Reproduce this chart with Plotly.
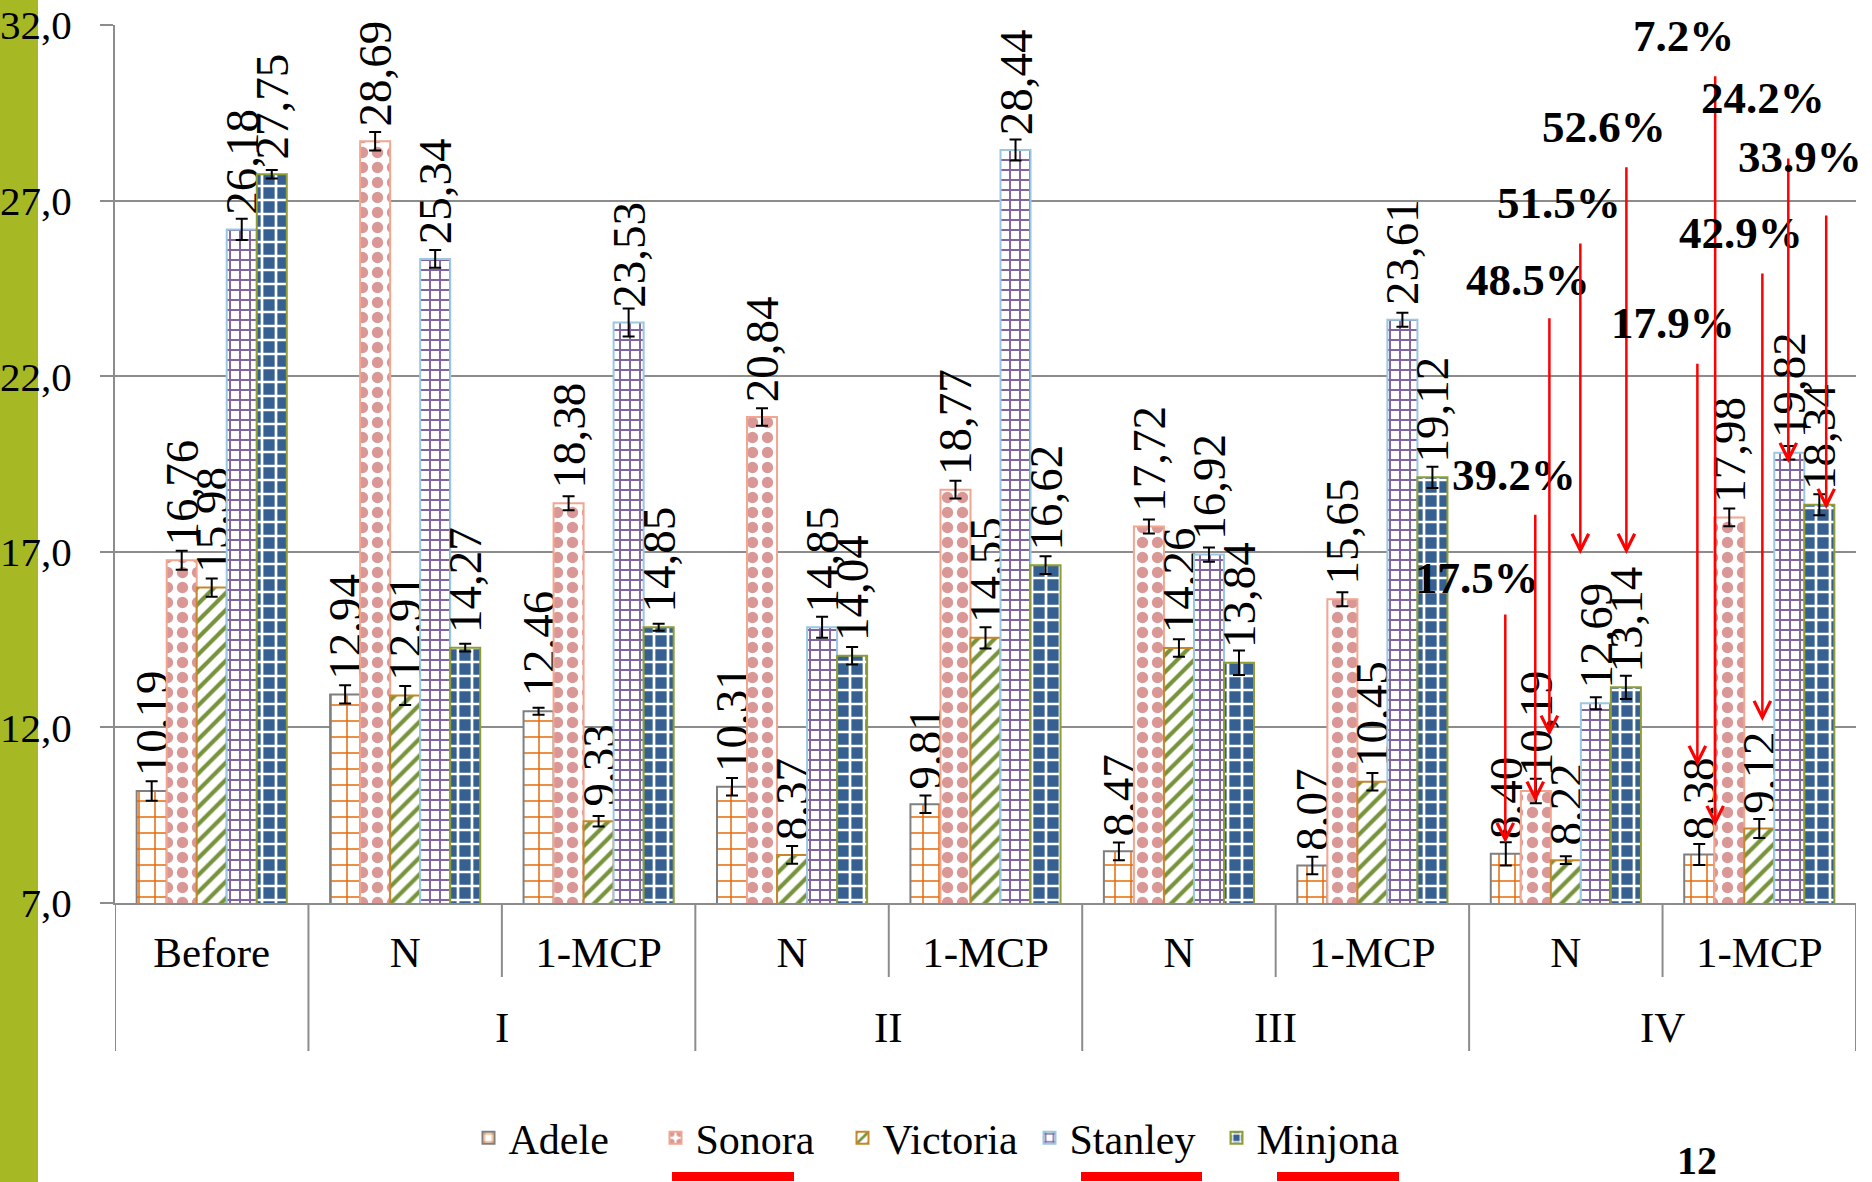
import plotly.graph_objects as go

# ---------------- data ----------------
categories = ["Before", "N", "1-MCP", "N", "1-MCP", "N", "1-MCP", "N", "1-MCP"]
groups = ["I", "II", "III", "IV"]
group_centers = [1.5, 3.5, 5.5, 7.5]
series_names = ["Adele", "Sonora", "Victoria", "Stanley", "Minjona"]

adele = [10.19, 12.94, 12.46, 10.31, 9.81, 8.47, 8.07, 8.40, 8.38]
sonora = [16.76, 28.69, 18.38, 20.84, 18.77, 17.72, 15.65, 10.19, 17.98]
victoria = [15.98, 12.91, 9.33, 8.37, 14.55, 14.26, 10.45, 8.22, 9.12]
stanley = [26.18, 25.34, 23.53, 14.85, 28.44, 16.92, 23.61, 12.69, 19.82]
minjona = [27.75, 14.27, 14.85, 14.04, 16.62, 13.84, 19.12, 13.14, 18.34]

adele_err = [0.28, 0.26, 0.10, 0.25, 0.25, 0.25, 0.25, 0.33, 0.30]
sonora_err = [0.27, 0.26, 0.20, 0.25, 0.25, 0.20, 0.20, 0.35, 0.25]
victoria_err = [0.26, 0.27, 0.15, 0.25, 0.30, 0.25, 0.25, 0.11, 0.27]
stanley_err = [0.30, 0.25, 0.40, 0.30, 0.30, 0.20, 0.20, 0.17, 0.19]
minjona_err = [0.12, 0.11, 0.10, 0.25, 0.25, 0.35, 0.30, 0.33, 0.30]

y_ticks = [7, 12, 17, 22, 27, 32]

pct_labels = ["17.5%", "39.2%", "48.5%", "51.5%", "52.6%",
              "17.9%", "7.2%", "42.9%", "24.2%", "33.9%"]
arrow_x = [6.687, 6.842, 6.915, 7.075, 7.313, 7.680, 7.772, 8.016, 8.150, 8.346]
arrow_tail = [15.26, 18.10, 23.69, 25.82, 27.99, 22.40, 30.58, 24.97, 28.24, 26.62]
arrow_tip = [8.71, 9.88, 11.76, 16.94, 16.94, 10.90, 9.19, 12.18, 19.53, 18.22]
label_x = [6.54, 6.734, 6.806, 6.966, 7.199, 7.556, 7.608, 7.908, 8.021, 8.212]
label_y = [16.25, 19.19, 24.74, 26.93, 29.10, 23.51, 31.69, 26.08, 29.92, 28.24]

# ---------------- styles ----------------
FONT = "Liberation Serif, Times New Roman, serif"
GRID = "#8C8C8C"
W, H = 1872, 1182
ML, MR, MT, MB = 115, 16, 25, 279
PW, PH = W - ML - MR, H - MT - MB


def px_x(px):
    return (px - ML) / PW


def px_y(py):
    return (H - MB - py) / PH


values = [adele, sonora, victoria, stanley, minjona]
errors = [adele_err, sonora_err, victoria_err, stanley_err, minjona_err]
styles = [
    dict(bg="white", fg="#E46C0A", shape="+", size=16, solidity=0.18, line="#7F7F7F"),
    dict(bg="white", fg="#D99795", shape=".", size=15, solidity=0.45, line="#F2A58F"),
    dict(bg="white", fg="#77933C", shape="/", size=12, solidity=0.35, line="#C8862A"),
    dict(bg="white", fg="#8064A2", shape="+", size=10, solidity=0.35, line="#9CC7E0"),
    dict(bg="#376092", fg="white", shape="+", size=14, solidity=0.35, line="#8E9E33"),
]

fig = go.Figure()
xs = list(range(len(categories)))
for name, vals, errs, st in zip(series_names, values, errors, styles):
    fig.add_trace(go.Bar(
        name=name, x=xs, y=vals,
        marker=dict(color=st["bg"],
                    line=dict(color=st["line"], width=2),
                    pattern=dict(shape=st["shape"], fgcolor=st["fg"], bgcolor=st["bg"],
                                 size=st["size"], solidity=st["solidity"], fillmode="replace")),
        error_y=dict(type="data", array=errs, visible=True, color="black", thickness=2, width=6),
        text=["\u00a0" + f"{v:.2f}".replace(".", ",") for v in vals],
        textposition="outside", textangle=-90, constraintext="none",
        textfont=dict(family=FONT, size=47, color="black"),
        cliponaxis=False,
    ))

shapes = []
# olive bar at left edge
shapes.append(dict(type="rect", xref="paper", yref="paper", x0=px_x(0), x1=px_x(38),
                   y0=px_y(H), y1=px_y(0), fillcolor="#A6B824", line=dict(width=0), layer="below"))
# category dividers
for b in [-0.5, 0.5, 2.5, 4.5, 6.5, 8.5]:
    shapes.append(dict(type="line", xref="x", yref="paper", x0=b, x1=b, y0=0, y1=px_y(1051),
                       line=dict(color=GRID, width=2)))
for b in [1.5, 3.5, 5.5, 7.5]:
    shapes.append(dict(type="line", xref="x", yref="paper", x0=b, x1=b, y0=0, y1=px_y(977),
                       line=dict(color=GRID, width=2)))
# red underlines below legend entries
for x0, x1 in [(672, 794), (1081, 1202), (1277, 1399)]:
    shapes.append(dict(type="rect", xref="paper", yref="paper", x0=px_x(x0), x1=px_x(x1),
                       y0=px_y(1181), y1=px_y(1172), fillcolor="red", line=dict(width=0)))

annotations = []
for g, c in zip(groups, group_centers):
    annotations.append(dict(text=g, x=c, xref="x", y=px_y(1027), yref="paper", showarrow=False,
                            xanchor="center", yanchor="middle",
                            font=dict(family=FONT, size=43, color="black")))
for lab, ax_, tl, tp, lx, ly in zip(pct_labels, arrow_x, arrow_tail, arrow_tip, label_x, label_y):
    annotations.append(dict(text="", x=ax_, y=tp, ax=ax_, ay=tl, xref="x", yref="y",
                            axref="x", ayref="y", showarrow=True, arrowhead=5, arrowsize=1.3,
                            arrowwidth=2.5, arrowcolor="red"))
    annotations.append(dict(text="<b>" + lab + "</b>", x=lx, y=ly, xref="x", yref="y",
                            showarrow=False, xanchor="center", yanchor="middle",
                            font=dict(family=FONT, size=45, color="black")))
annotations.append(dict(text="<b>12</b>", x=px_x(1697), y=px_y(1160), xref="paper", yref="paper",
                        showarrow=False, xanchor="center", yanchor="middle",
                        font=dict(family=FONT, size=40, color="black")))

fig.update_layout(
    width=W, height=H,
    margin=dict(l=ML, r=MR, t=MT, b=MB, pad=0, autoexpand=False),
    paper_bgcolor="white", plot_bgcolor="white",
    barmode="group", bargap=0.224, bargroupgap=0,
    separators=", ",
    font=dict(family=FONT, color="black"),
    showlegend=True,
    legend=dict(orientation="h", x=px_x(936), y=px_y(1138), xanchor="center", yanchor="middle",
                font=dict(family=FONT, size=42, color="black"),
                entrywidth=142, entrywidthmode="pixels",
                bgcolor="rgba(0,0,0,0)"),
    shapes=shapes, annotations=annotations,
)
fig.update_xaxes(range=[-0.5, 8.5], tickmode="array", tickvals=xs, ticktext=categories,
                 showgrid=False, zeroline=False, showline=True, linecolor=GRID, linewidth=2,
                 automargin=False,
                 ticks="", tickfont=dict(family=FONT, size=43, color="black"), ticklabelstandoff=10)
fig.update_yaxes(range=[7, 32], tickmode="array", tickvals=y_ticks, tickformat=".1f",
                 showgrid=True, gridcolor=GRID, gridwidth=2, zeroline=False,
                 showline=True, linecolor=GRID, linewidth=2, automargin=False,
                 ticks="outside", ticklen=13, tickcolor=GRID, tickwidth=2,
                 tickfont=dict(family=FONT, size=41, color="black"), ticklabelstandoff=20)

fig.write_html("out.html", config={"displayModeBar": False},
               post_script="document.body.style.margin='0';")
